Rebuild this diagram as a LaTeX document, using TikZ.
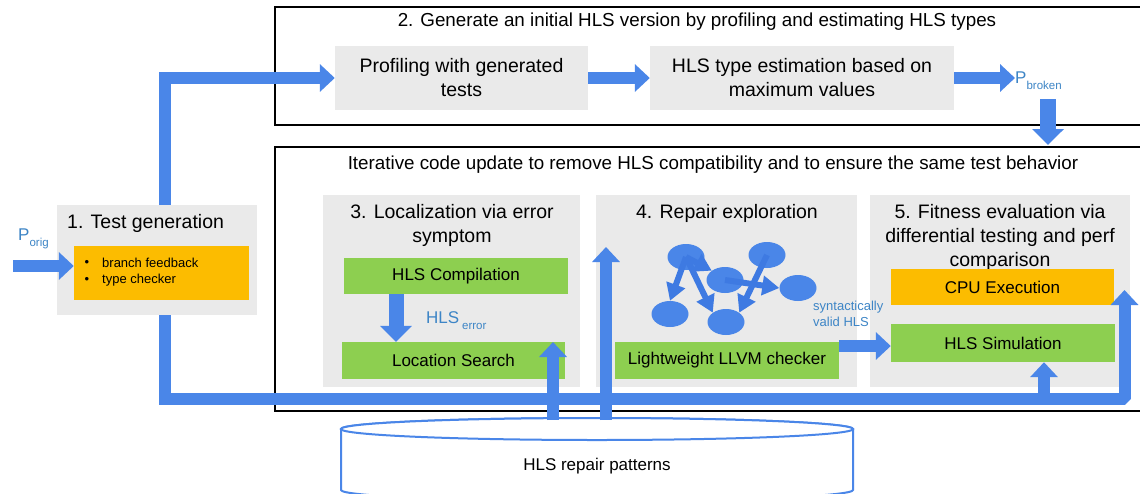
\documentclass[tikz,border=0pt]{standalone}
\usepackage{fontspec}
\setmainfont{Liberation Sans}
\usetikzlibrary{arrows.meta,shapes.geometric}
\definecolor{bblue}{RGB}{74,134,232}
\definecolor{gblue}{RGB}{62,122,226}
\definecolor{tblue}{RGB}{61,133,198}
\definecolor{bgray}{RGB}{234,234,234}
\definecolor{bgreen}{RGB}{141,207,80}
\definecolor{borange}{RGB}{252,188,0}
\newcommand\fsBig{\fontsize{19.5}{24}\selectfont}
\newcommand\fsTitle{\fontsize{18.8}{22}\selectfont}
\newcommand\fsMid{\fontsize{17}{20}\selectfont}
\newcommand\fsSmall{\fontsize{13}{16.5}\selectfont}
\newcommand\fsSub{\fontsize{11.5}{13}\selectfont}
\tikzset{
  outerbox/.style={draw=black, line width=2.5pt},
  graybox/.style={fill=bgray, inner sep=0pt, align=center, font=\fsBig},
  greenbox/.style={fill=bgreen, inner sep=0pt, align=center, font=\fsMid},
  orangebox/.style={fill=borange, inner sep=0pt, align=center, font=\fsMid},
  heading/.style={inner sep=0pt, align=center, font=\fsBig},
  toptitle/.style={inner sep=0pt, align=center, font=\fsTitle},
  bluelabel/.style={inner sep=0pt, text=tblue},
  fatline/.style={draw=bblue, line width=12pt, line join=miter},
  fat/.style={fatline, -{Triangle[length=15pt,width=27pt]}},
  fatwide/.style={draw=bblue, line width=16pt, line join=miter, -{Triangle[length=16pt,width=31pt]}},
  gnode/.style={ellipse, fill=bblue, minimum width=37pt, minimum height=26pt, inner sep=0pt},
  garrow/.style={draw=gblue, line width=6pt, -{Triangle[length=17pt,width=19pt]}},
  cyl/.style={draw=bblue, line width=2pt, fill=white},
}
\begin{document}
\begin{tikzpicture}[x=1pt,y=-1pt]
\useasboundingbox (0,0) rectangle (1140,493);
\clip (0,0) rectangle (1140,493);
\fill[white] (0,0) rectangle (1140,493);

% outer frames
\draw[outerbox] (275,7) rectangle (1160,125);
\draw[outerbox] (275,147) rectangle (1160,411);
\node[toptitle] (t2) at (697,22) {2. Generate an initial HLS version by profiling and estimating HLS types};
\node[toptitle] (tit) at (713,165) {Iterative code update to remove HLS compatibility and to ensure the same test behavior};

% stage 2 boxes
\node[graybox, minimum width=253pt, minimum height=64pt] (prof) at (461.5,78) {Profiling with generated\\tests};
\node[graybox, minimum width=304pt, minimum height=64pt] (est) at (802,78) {HLS type estimation based on\\maximum values};
\node[bluelabel, anchor=west] (pbroken) at (1015,81) {\fontsize{17}{20}\selectfont P\raisebox{-6pt}{\fsSub broken}};

% test generation
\node[graybox, minimum width=200pt, minimum height=110pt] (tg) at (157,260) {};
\node[heading, anchor=west] (tgt) at (67,223) {1. Test generation};
\node[orangebox, minimum width=175pt, minimum height=54pt] (tgo) at (161.5,273) {};
\node[inner sep=0pt, font=\fsSmall] (b1) at (87,263) {\textbullet};
\node[inner sep=0pt, font=\fsSmall, anchor=west] (l1) at (102,263) {branch feedback};
\node[inner sep=0pt, font=\fsSmall] (b2) at (87,280) {\textbullet};
\node[inner sep=0pt, font=\fsSmall, anchor=west] (l2) at (102,280) {type checker};
\node[bluelabel, anchor=west] (porig) at (18,239) {\fontsize{17}{20}\selectfont P\raisebox{-6pt}{\fsSub orig}};

% stage 3
\node[graybox, minimum width=257pt, minimum height=192pt] (s3) at (451.5,291) {};
\node[heading] (s3t) at (452,225) {3. Localization via error\\symptom};
\node[greenbox, minimum width=224pt, minimum height=36pt] (comp) at (456,276) {HLS Compilation};
\node[greenbox, minimum width=223pt, minimum height=37pt] (loc) at (453.5,360.5) {Location Search};
\node[bluelabel, anchor=west] (herr) at (426,321) {\fontsize{17}{20}\selectfont HLS\,\raisebox{-6pt}{\fsSub error}};

% stage 4
\node[graybox, minimum width=261pt, minimum height=192pt] (s4) at (726.5,291) {};
\node[heading] (s4t) at (727,213) {4. Repair exploration};
\node[greenbox, minimum width=224pt, minimum height=37pt] (llvm) at (727,360.5) {Lightweight LLVM checker};

% stage 5
\node[graybox, minimum width=260pt, minimum height=192pt] (s5) at (1000,291) {};
\node[heading] (s5t) at (1000,237) {5. Fitness evaluation via\\differential testing and perf\\comparison};
\node[orangebox, minimum width=223pt, minimum height=36pt] (cpu) at (1002.5,287) {CPU Execution};
\node[greenbox, minimum width=224pt, minimum height=38pt] (sim) at (1003,343) {HLS Simulation};

% exploration graph
\node[gnode] (e1) at (686,257) {};
\node[gnode] (e2) at (767,255) {};
\node[gnode] (e3) at (725,280) {};
\node[gnode] (e4) at (798,288) {};
\node[gnode] (e5) at (670,314) {};
\node[gnode] (e6) at (726,322) {};
\draw[garrow] (e1.center) -- (e5.north);
\draw[garrow] (e1.center) -- (e6.north west);
\draw[garrow] (e1.center) -- (e3.north west);
\draw[garrow] (e2.center) -- (e6.north east);
\draw[garrow] (e3.center) -- (e4.west);
\node[bluelabel, anchor=west, align=left, font=\fsSmall] (valid) at (813,314) {syntactically\\valid HLS};

% repair patterns cylinder
\draw[cyl] (341,429) -- (341,490) arc[start angle=180, end angle=0, x radius=256, y radius=11] -- (853,429) arc[start angle=0, end angle=-180, x radius=256, y radius=11] -- cycle;
\draw[cyl] (597,429) ellipse[x radius=256, y radius=11];
\node[inner sep=0pt, font=\fsMid] (pat) at (597,466) {HLS repair patterns};

% coordinates for free ends
\coordinate (inl) at (13,266);
\coordinate (tgtop) at (165,205);
\coordinate (tgbot) at (165,315);
\coordinate (bl) at (165,399);
\coordinate (bm) at (1090,399);
\coordinate (br) at (1124.5,399);
\coordinate (rtip) at (1124.5,290);
\coordinate (simb) at (1044,399);
\coordinate (pbd) at (1048,99);
\coordinate (pbt) at (1048,145);
\coordinate (c1) at (553,420);
\coordinate (c1t) at (553,342);
\coordinate (c2) at (606,420);
\coordinate (c2t) at (606,247);

% arrows
\draw[fat] (inl) -- (inl -| tgo.west);
\draw[fat] (tgtop) |- (prof.west);
\draw[fat] (prof.east) -- (est.west);
\draw[fat] (est.east) -- (est.east -| pbroken.west);
\draw[fatwide] (pbd) -- (pbt);
\draw[fatline] (tgbot) -- (bl) -- (bm);
\draw[fat, line join=bevel] (bm) -- (br) -- (rtip);
\draw[fat] (simb) -- (sim.south -| simb);
\draw[fatwide, line width=15pt] (comp.south -| 396,0) -- (loc.north -| 396,0);
\draw[fat] (llvm.east |- 0,346) -- (sim.west |- 0,346);
\draw[fat] (c1) -- (c1t);
\draw[fat] (c2) -- (c2t);
\end{tikzpicture}
\end{document}
